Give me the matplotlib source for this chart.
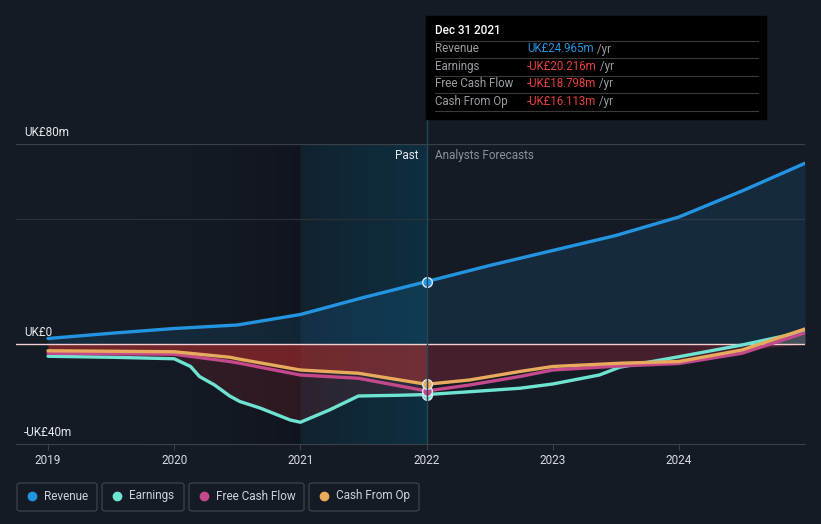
import numpy as np
import matplotlib.pyplot as plt
from matplotlib.patches import Rectangle, FancyBboxPatch
from matplotlib.lines import Line2D
from matplotlib.text import Annotation

plt.rcParams['font.family'] = ['Roboto', 'DejaVu Sans']

# values (UK£ m), x in fractional years
rev_x = [2019.0, 2019.5, 2020.0, 2020.5, 2021.0, 2021.5, 2022.0, 2022.5, 2023.0, 2023.5, 2024.0, 2024.5, 2025.0]
revenue = [2.2, 4.3, 6.2, 7.6, 11.8, 18.6, 24.965, 31.4, 37.4, 43.4, 50.8, 61.2, 72.3]

earn_x = [2019.0, 2019.5, 2020.0, 2020.13, 2020.2, 2020.32, 2020.44, 2020.52, 2020.68, 2020.92, 2021.0,
          2021.23, 2021.46, 2021.79, 2022.0, 2022.34, 2022.74, 2023.0, 2023.37, 2023.53, 2024.0, 2024.5, 2025.0]
earnings = [-4.9, -5.3, -5.9, -9.0, -13.0, -16.4, -20.8, -23.0, -25.6, -30.4, -31.3,
            -26.4, -20.8, -20.5, -20.216, -19.1, -17.7, -16.0, -12.4, -9.3, -5.1, -0.4, 5.0]

cf_x = [2019.0, 2020.0, 2020.44, 2020.52, 2021.0, 2021.46, 2021.79, 2022.0, 2022.34, 2022.74,
        2023.0, 2023.53, 2024.0, 2024.5, 2025.0]
fcf = [-3.7, -4.1, -7.0, -7.7, -12.4, -13.7, -16.8, -18.798, -16.4, -13.0, -10.4, -8.8, -7.8, -3.7, 4.5]
cfo = [-2.7, -3.1, -5.3, -6.1, -10.4, -11.7, -14.4, -16.113, -14.4, -11.0, -9.0, -7.7, -7.0, -2.4, 6.0]

years = [2019, 2020, 2021, 2022, 2023, 2024]
names = ['Revenue', 'Earnings', 'Free Cash Flow', 'Cash From Op']
tip_values = ['UK£24.965m', '-UK£20.216m', '-UK£18.798m', '-UK£16.113m']

BG = '#151b25'
C_REV = '#2394df'
C_EARN = '#6fe3d2'
C_FCF = '#c4498a'
C_CFO = '#e8aa5c'

W, H = 821, 524


def fx(x):
    return x / W


def fy(y):
    return 1 - y / H


fig = plt.figure(figsize=(W / 100, H / 100), dpi=100, facecolor=BG)
ax = fig.add_axes([fx(16), fy(444), fx(805) - fx(16), fy(144) - fy(444)])
ax.set_facecolor(BG)
ax.set_xlim(2018.746, 2025.0)
ax.set_ylim(-40, 80)

# shaded past regions
dark = np.zeros((1, 200, 4))
dark[..., 3] = np.linspace(0, 0.35, 200) ** 1.5
ax.imshow(dark, extent=(2019.6, 2021.0, -40, 80), aspect='auto', zorder=0)
teal = np.zeros((1, 200, 4))
teal[..., 0], teal[..., 1], teal[..., 2] = 0.03, 0.24, 0.33
teal[..., 3] = np.linspace(0.2, 0.6, 200)
ax.imshow(teal, extent=(2021.0, 2022.0, -40, 80), aspect='auto', zorder=0)

ax.axhline(80, color='#3a3f48', lw=0.9, zorder=1)
ax.axhline(50, color='#2b3038', lw=0.9, zorder=1)

# fills
xr = np.array(rev_x)
ax.fill_between(xr, 0, revenue, color=C_REV, alpha=0.13, lw=0, zorder=1)
xc = np.array(cf_x)
cfo_a = np.array(cfo)
past = xc <= 2022.0
ax.fill_between(xc[past], 0, cfo_a[past], color='#c0302f', alpha=0.55, lw=0, zorder=1)
ax.fill_between(earn_x[:15], np.interp(earn_x[:15], cf_x, cfo), earnings[:15],
                color='#b02a35', alpha=0.18, lw=0, zorder=1)
fut = xc >= 2022.0
ax.fill_between(xc[fut], 0, np.minimum(cfo_a[fut], 0), color='#a0283a', alpha=0.35, lw=0, zorder=1)
ax.fill_between(xc[fut], 0, np.maximum(cfo_a[fut], 0), color='#777777', alpha=0.5, lw=0, zorder=1)

ax.axhline(0, color='#f0d0d0', lw=1.0, zorder=2)

style = dict(lw=2.4, solid_capstyle='round', solid_joinstyle='round')
ax.plot(rev_x, revenue, color=C_REV, zorder=4, **style)
ax.plot(earn_x, earnings, color=C_EARN, zorder=3, **style)
ax.plot(cf_x, fcf, color=C_FCF, zorder=3, **style)
ax.plot(cf_x, cfo, color=C_CFO, zorder=3, **style)

# markers at the tooltip date
for col, val in zip([C_EARN, C_FCF, C_CFO, C_REV], [earnings[14], fcf[7], cfo[7], revenue[6]]):
    ax.plot([2022.0], [val], 'o', ms=7, color=col, mec='#dde6ee', mew=1.0, zorder=6)

for s in ['top', 'right', 'left']:
    ax.spines[s].set_visible(False)
ax.spines['bottom'].set_color('#3a3f48')
ax.set_yticks([])
ax.set_xticks(years)
ax.set_xticklabels([str(y) for y in years], color='#d8dbe0', fontsize=8.5)
ax.tick_params(axis='x', length=4, color='#3a3f48', pad=3)

# y labels
for lab, y in [('UK£80m', 132), ('UK£0', 332), ('-UK£40m', 432)]:
    fig.text(fx(24), fy(y), lab, color='#e6e8eb', fontsize=8.5, va='center', ha='left')

fig.text(fx(418), fy(156), 'Past', color='#e6e8eb', fontsize=8.5, va='center', ha='right')
fig.text(fx(435), fy(156), 'Analysts Forecasts', color='#8c9198', fontsize=8.5, va='center', ha='left')

# vertical line at the tooltip date
fig.add_artist(Line2D([fx(427), fx(427)], [fy(119), fy(444)], color='#24485a', lw=1.0))

# tooltip
fig.add_artist(Rectangle((fx(426), fy(119)), fx(766) - fx(426), fy(16) - fy(119), color='#000000', zorder=10))
fig.text(fx(435), fy(31), 'Dec 31 2021', color='white', fontsize=8.5, fontweight='medium', va='center', zorder=11)
for i, (nm, val) in enumerate(zip(names, tip_values)):
    y = 49 + i * 17.5
    fig.add_artist(Line2D([fx(435), fx(758)], [fy(y - 8.5), fy(y - 8.5)], color='#3a3a3a', lw=0.8, zorder=11))
    fig.text(fx(435), fy(y), nm, color='#9a9ea4', fontsize=8.3, va='center', zorder=11)
    t = fig.text(fx(527), fy(y), val, color=C_REV if i == 0 else '#e8403f', fontsize=8.3,
                 va='center', zorder=11)
    fig.add_artist(Annotation(' /yr', xy=(1, 0.5), xycoords=t, va='center', ha='left',
                              color='#9a9ea4', fontsize=8.3, zorder=11))
fig.add_artist(Line2D([fx(435), fx(758)], [fy(111), fy(111)], color='#3a3a3a', lw=0.8, zorder=11))

# legend boxes
boxes = [(17, 97), (102, 184), (189, 304), (309, 419)]
for (x0, x1), nm, col in zip(boxes, names, [C_REV, C_EARN, C_FCF, C_CFO]):
    fig.add_artist(FancyBboxPatch((fx(x0), fy(511)), fx(x1) - fx(x0), fy(483) - fy(511),
                                  boxstyle='round,pad=0,rounding_size=0.004', fc=BG, ec='#3d424b', lw=0.9))
    fig.add_artist(Line2D([fx(x0 + 15)], [fy(496)], marker='o', ms=6, color=col, lw=0))
    fig.text(fx(x0 + 27), fy(496), nm, color='#d0d3d8', fontsize=8.5, va='center', ha='left')

fig.savefig('out.png', dpi=100, facecolor=BG)
